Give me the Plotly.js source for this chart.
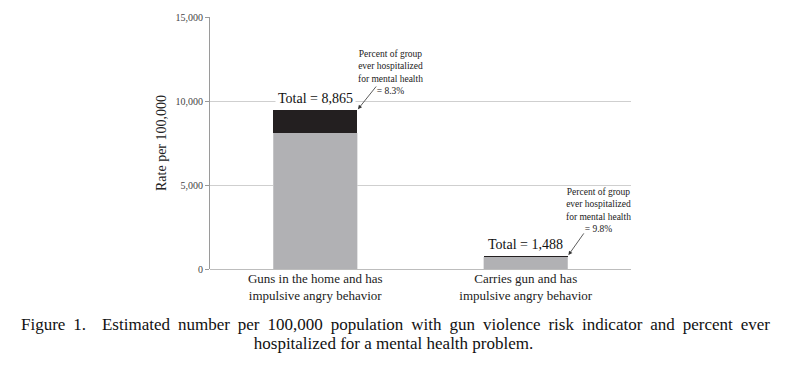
<!DOCTYPE html>
<html><head><meta charset="utf-8">
<script src="https://cdn.plot.ly/plotly-3.0.1.min.js"></script>
<style>
html,body{margin:0;padding:0;background:#fff;}
#wrap{position:relative;width:787px;height:369px;}
#chart{position:absolute;left:0;top:0;width:787px;height:369px;}
#cap1{position:absolute;left:21px;width:749px;top:315px;font-family:"Liberation Serif",serif;font-size:17px;color:#111;text-align:justify;text-align-last:justify;white-space:nowrap;}
#cap2{position:absolute;left:0;width:787px;top:334px;font-family:"Liberation Serif",serif;font-size:17px;color:#111;text-align:center;}
</style></head>
<body><div id="wrap"><div id="chart"></div>
<div id="cap1">Figure 1.&nbsp; Estimated number per 100,000 population with gun violence risk indicator and percent ever</div>
<div id="cap2">hospitalized for a mental health problem.</div></div>
<script>
const categories = ["Guns in the home and has<br>impulsive angry behavior", "Carries gun and has<br>impulsive angry behavior"];
const notHospitalized = [8100, 730];
const hospitalized = [1365, 50];
const totalLabels = ["8,865", "1,488"];
const percentLabels = ["8.3%", "9.8%"];
const yTickVals = [0, 5000, 10000, 15000];
const yTickText = ["0", "5,000", "10,000", "15,000"];

const idx = categories.map((c, i) => i);
const traces = [
  {type:'bar', x: idx, y: notHospitalized, marker:{color:'#b1b1b4', line:{color:'#d0d0d2', width:0.6}}, hoverinfo:'skip'},
  {type:'bar', x: idx, y: hospitalized, marker:{color:'#231f20', line:{width:0}}, hoverinfo:'skip'}
];
const tops = idx.map(i => notHospitalized[i] + hospitalized[i]);
const ann = [];
const txtShift = [[75, 37], [73, 45]];
const arrowOff = [[20, -25], [17, -24]];
idx.forEach(i => {
  ann.push({x: i, y: tops[i], xref:'x', yref:'y', text:'Total = ' + totalLabels[i], showarrow:false,
    yshift: 11, yanchor:'middle', bgcolor: i === 0 ? '#ffffff' : 'rgba(0,0,0,0)', borderpad: 2,
    font:{family:'Liberation Serif, serif', size:14, color:'#111'}});
  ann.push({x: i + 0.2, y: tops[i], xref:'x', yref:'y', text:'', showarrow:true, ax: arrowOff[i][0], ay: arrowOff[i][1],
    arrowhead: 2, arrowsize: 1, arrowwidth: 0.8, arrowcolor:'#333', standoff: 1});
  ann.push({x: i, y: tops[i], xref:'x', yref:'y', xshift: txtShift[i][0], yshift: txtShift[i][1], showarrow:false,
    text:'Percent of group<br>ever hospitalized<br>for mental health<br>= ' + percentLabels[i], align:'center',
    font:{family:'Liberation Serif, serif', size:9.5, color:'#222'}});
});
const layout = {
  width: 787, height: 369,
  margin: {l:210, r:156, t:17, b:100},
  paper_bgcolor:'#fff', plot_bgcolor:'#fff',
  barmode:'stack', bargap: 0.6, showlegend:false,
  xaxis: {tickvals: idx, ticktext: categories, range:[-0.5, 1.5], showgrid:false, zeroline:false,
    showline:false, ticks:'', tickfont:{family:'Liberation Serif, serif', size:13, color:'#222'}, fixedrange:true},
  yaxis: {range:[0, 15000], tickvals: yTickVals, ticktext: yTickText, showgrid:true, gridcolor:'#cfcfcf', gridwidth:1,
    zeroline:true, zerolinecolor:'#bdbdbd', showline:true, linecolor:'#9a9a9a', linewidth:1,
    ticks:'outside', ticklen:4, tickcolor:'#9a9a9a',
    tickfont:{family:'Liberation Serif, serif', size:10, color:'#444'},
    title:{text:'Rate per 100,000', font:{family:'Liberation Serif, serif', size:14, color:'#222'}, standoff: 5}, fixedrange:true},
  annotations: ann,
  font:{family:'Liberation Serif, serif'}
};
Plotly.newPlot('chart', traces, layout, {displayModeBar:false, staticPlot:true});
</script></body></html>
